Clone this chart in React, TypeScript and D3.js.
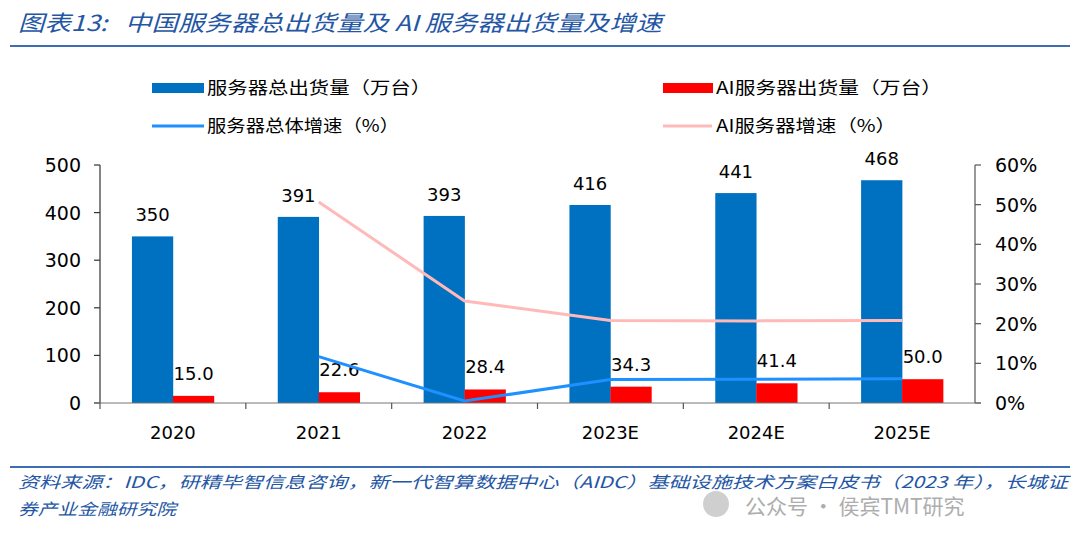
import React from 'react';
import * as d3 from 'd3';

const years = ['2020', '2021', '2022', '2023E', '2024E', '2025E'];
const totalShip = [350, 391, 393, 416, 441, 468];
const aiShip = [15.0, 22.6, 28.4, 34.3, 41.4, 50.0];
const totalGrowth = [null, 11.7, 0.5, 5.9, 6.0, 6.1];
const aiGrowth = [null, 50.7, 25.7, 20.8, 20.7, 20.8];
const leftTicks = [0, 100, 200, 300, 400, 500];
const rightTicks = [0, 10, 20, 30, 40, 50, 60];

const W = 1079, H = 539;
const cn = '"Noto Sans CJK SC", "Noto Sans", sans-serif';
const num = '"DejaVu Sans", Verdana, sans-serif';
const titleBlue = '#2456A4';

function App() {
  const x = d3.scaleBand().domain(years).range([100, 975]).paddingInner(0).paddingOuter(0);
  const bw = x.bandwidth();
  const yL = d3.scaleLinear().domain([0, 500]).range([403, 165]);
  const yR = d3.scaleLinear().domain([0, 60]).range([403, 165]);

  const pts = (arr) => years.map((c, i) => ({ c, v: arr[i] })).filter(d => d.v != null);
  const line = d3.line().x(d => x(d.c) + bw / 2).y(d => yR(d.v));

  const blueX = (c) => x(c) + bw * 0.219;
  const redX = (c) => x(c) + bw * 0.5;
  const barW = bw * 0.283;

  return (
    <svg width={W} height={H} style={{ position: 'absolute', left: 0, top: 0 }}>
      <rect width={W} height={H} fill="#fff" />
      {/* title */}
      <text x={18} y={31} fontFamily={cn} fontSize={22} fontStyle="italic" fill={titleBlue}
        textLength={644} lengthAdjust="spacingAndGlyphs">{'图表13:\u00A0\u00A0\u00A0中国服务器总出货量及 AI 服务器出货量及增速'}</text>
      <line x1={10} x2={1070} y1={46} y2={46} stroke="#3E6DB5" strokeWidth={2} />

      {/* legend */}
      <rect x={152} y={83} width={52} height={10} fill="#0070C0" />
      <text x={207} y={94} fontFamily={cn} fontSize={17} fill="#000" textLength={224} lengthAdjust="spacingAndGlyphs">服务器总出货量（万台）</text>
      <rect x={663} y={83} width={50} height={10} fill="#FF0000" />
      <text x={716} y={94} fontFamily={cn} fontSize={17} fill="#000" textLength={226} lengthAdjust="spacingAndGlyphs">AI服务器出货量（万台）</text>
      <line x1={152} x2={204} y1={126} y2={126} stroke="#1E90FF" strokeWidth={3} />
      <text x={207} y={132} fontFamily={cn} fontSize={17} fill="#000" textLength={192} lengthAdjust="spacingAndGlyphs">服务器总体增速（%）</text>
      <line x1={663} x2={712} y1={126} y2={126} stroke="#FFB9B9" strokeWidth={3} />
      <text x={716} y={132} fontFamily={cn} fontSize={17} fill="#000" textLength={180} lengthAdjust="spacingAndGlyphs">AI服务器增速（%）</text>

      {/* bars */}
      {years.map((c, i) => (
        <g key={c}>
          <rect x={blueX(c)} y={yL(totalShip[i])} width={barW} height={yL(0) - yL(totalShip[i])} fill="#0070C0" />
          <rect x={redX(c)} y={yL(aiShip[i])} width={barW} height={yL(0) - yL(aiShip[i])} fill="#FF0000" />
          <text x={blueX(c) + barW / 2} y={yL(totalShip[i]) - 15} textAnchor="middle" fontFamily={num} fontSize={18} fill="#000">{totalShip[i]}</text>
          <text x={redX(c) + barW / 2} y={yL(aiShip[i]) - 16} textAnchor="middle" fontFamily={num} fontSize={18} fill="#000">{aiShip[i].toFixed(1)}</text>
        </g>
      ))}

      {/* lines */}
      <path d={line(pts(aiGrowth))} fill="none" stroke="#FFB9B9" strokeWidth={3} />
      <path d={line(pts(totalGrowth))} fill="none" stroke="#1E90FF" strokeWidth={3} />

      {/* axes */}
      <line x1={100} x2={100} y1={165} y2={403} stroke="#333" strokeWidth={1.2} />
      {leftTicks.map(t => (
        <g key={t}>
          <line x1={94} x2={100} y1={yL(t)} y2={yL(t)} stroke="#333" strokeWidth={1.2} />
          <text x={81} y={yL(t) + 7} textAnchor="end" fontFamily={num} fontSize={19} fill="#000">{t}</text>
        </g>
      ))}
      <line x1={975} x2={975} y1={165} y2={403} stroke="#555" strokeWidth={1.2} />
      {rightTicks.map(t => (
        <g key={t}>
          <line x1={975} x2={981} y1={yR(t)} y2={yR(t)} stroke="#555" strokeWidth={1.2} />
          <text x={995} y={yR(t) + 7} fontFamily={num} fontSize={19} fill="#000">{t}%</text>
        </g>
      ))}
      <line x1={94} x2={981} y1={403} y2={403} stroke="#777" strokeWidth={1.2} />
      {years.map(c => (
        <line key={c} x1={x(c)} x2={x(c)} y1={403} y2={409} stroke="#555" strokeWidth={1.2} />
      ))}
      {years.map(c => (
        <text key={c} x={x(c) + bw / 2} y={439} textAnchor="middle" fontFamily={num} fontSize={18} fill="#000">{c}</text>
      ))}

      {/* source */}
      <line x1={10} x2={1070} y1={467} y2={467} stroke="#3E6DB5" strokeWidth={2} />
      <text x={18} y={488} fontFamily={cn} fontSize={16} fontStyle="italic" fill={titleBlue}
        textLength={1050} lengthAdjust="spacingAndGlyphs">资料来源：IDC，研精毕智信息咨询，新一代智算数据中心（AIDC）基础设施技术方案白皮书（2023 年），长城证</text>
      <text x={18} y={515} fontFamily={cn} fontSize={16} fontStyle="italic" fill={titleBlue}
        textLength={158} lengthAdjust="spacingAndGlyphs">券产业金融研究院</text>

      {/* watermark */}
      <circle cx={716} cy={504} r={13} fill="#bbb" opacity={0.7} />
      <text x={745} y={514} fontFamily={cn} fontSize={21} fill="#999" opacity={0.8}>公众号 · 侯宾TMT研究</text>
    </svg>
  );
}

export default App;
